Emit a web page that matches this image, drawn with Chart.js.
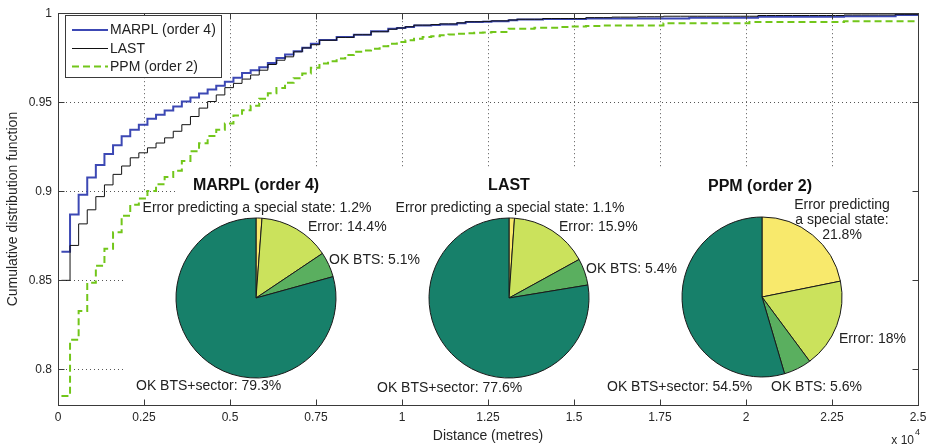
<!DOCTYPE html>
<html>
<head>
<meta charset="utf-8">
<script src="https://cdn.jsdelivr.net/npm/chart.js@4.4.1/dist/chart.umd.min.js"></script>
<style>
  html, body { margin: 0; padding: 0; background: #fff; }
  #wrap { position: relative; width: 936px; height: 448px; overflow: hidden; }
  #wrap canvas { position: absolute; }
</style>
</head>
<body>
<div id="wrap">
  <canvas id="cdf" width="936" height="448" style="left:0;top:0"></canvas>
  <canvas id="pie0" width="340" height="250" style="left:86px;top:173px"></canvas>
  <canvas id="pie1" width="340" height="250" style="left:339px;top:173px"></canvas>
  <canvas id="pie2" width="340" height="250" style="left:592px;top:172px"></canvas>
</div>
<script>
// ---------- data ----------
const seriesNames = ['MARPL (order 4)', 'LAST', 'PPM (order 2)'];

// start of each step of the empirical CDF (metres)
const distance = [
  100, 350, 600, 850, 1100, 1350, 1600, 1850, 2100, 2350,
  2600, 2850, 3100, 3350, 3600, 3850, 4100, 4350, 4600, 4850,
  5100, 5350, 5600, 5850, 6100, 6350, 6600, 6850, 7100, 7350,
  7600, 7850, 8100, 8350, 8600, 8850, 9100, 9350, 9600, 9850,
  10100, 10350, 10600, 10850, 11100, 11350, 11600, 11850, 12100, 12350,
  12600, 12850, 13100, 13350, 13600, 13850, 14100, 14350, 14600, 14850,
  15100, 15350, 15600, 15850, 16100, 16350, 16600, 16850, 17100, 17350,
  17600, 17850, 18100, 18350, 18600, 18850, 19100, 19350, 19600, 19850,
  20100, 20350, 20600, 20850, 21100, 21350, 21600, 21850, 22100, 22350,
  22600, 22850, 23100, 23350, 23600, 23850, 24100, 24350, 24600, 24850,
  25000
];

const cdfMarpl = [
  0.866, 0.887, 0.898, 0.9077, 0.9147, 0.921, 0.9259, 0.9309, 0.9346, 0.9374,
  0.9407, 0.943, 0.9454, 0.9476, 0.9504, 0.9526, 0.9549, 0.9571, 0.9593, 0.9615,
  0.9638, 0.9664, 0.968, 0.9697, 0.9721, 0.9749, 0.9768, 0.9786, 0.9806, 0.9829,
  0.985, 0.985, 0.9866, 0.9866, 0.9879, 0.9879, 0.9898, 0.9898, 0.9912, 0.9917,
  0.9922, 0.9931, 0.9931, 0.9934, 0.9937, 0.9937, 0.9944, 0.995, 0.995, 0.9952,
  0.9955, 0.9955, 0.996, 0.9965, 0.9965, 0.9965, 0.9968, 0.9968, 0.9968, 0.9968,
  0.9968, 0.997, 0.997, 0.997, 0.997, 0.997, 0.997, 0.997, 0.997, 0.997,
  0.997, 0.997, 0.997, 0.9974, 0.9974, 0.9974, 0.9974, 0.9974, 0.9974, 0.9974,
  0.9974, 0.998, 0.998, 0.998, 0.998, 0.998, 0.998, 0.998, 0.998, 0.998,
  0.998, 0.9983, 0.9983, 0.9983, 0.9983, 0.9983, 0.9983, 0.999, 0.999, 0.999,
  0.999
];

const cdfLast = [
  0.85, 0.8696, 0.8817, 0.8896, 0.897, 0.9036, 0.9095, 0.9142, 0.9188, 0.9216,
  0.9244, 0.9271, 0.93, 0.9337, 0.9374, 0.942, 0.9467, 0.9504, 0.9541, 0.9582,
  0.9606, 0.963, 0.9653, 0.968, 0.9712, 0.9736, 0.9755, 0.9783, 0.9805, 0.9823,
  0.9848, 0.9848, 0.9864, 0.9864, 0.9879, 0.9879, 0.9896, 0.9896, 0.991, 0.9917,
  0.9924, 0.9933, 0.9933, 0.9936, 0.994, 0.994, 0.9946, 0.9952, 0.9952, 0.9954,
  0.9957, 0.9957, 0.9962, 0.9966, 0.9966, 0.9966, 0.997, 0.997, 0.997, 0.997,
  0.997, 0.9975, 0.9975, 0.9975, 0.9978, 0.9978, 0.9978, 0.998, 0.998, 0.998,
  0.9983, 0.9983, 0.9983, 0.9983, 0.9983, 0.9983, 0.9983, 0.9983, 0.9983, 0.9983,
  0.9983, 0.9987, 0.9987, 0.9987, 0.9987, 0.9987, 0.9987, 0.9987, 0.9987, 0.9987,
  0.9987, 0.999, 0.999, 0.999, 0.999, 0.999, 0.999, 0.9994, 0.9994, 0.9994,
  0.9994
];

const cdfPpm = [
  0.785, 0.8166, 0.8328, 0.8486, 0.8582, 0.8677, 0.877, 0.8863, 0.8924, 0.8959,
  0.9002, 0.904, 0.908, 0.9115, 0.917, 0.9225, 0.927, 0.931, 0.9345, 0.938,
  0.9425, 0.9455, 0.948, 0.952, 0.955, 0.958, 0.961, 0.9635, 0.9662, 0.9693,
  0.9717, 0.973, 0.9745, 0.9765, 0.9783, 0.979, 0.9801, 0.9815, 0.9829, 0.9838,
  0.9848, 0.9857, 0.9866, 0.9871, 0.9876, 0.988, 0.9885, 0.9888, 0.989, 0.9892,
  0.9894, 0.9894, 0.9912, 0.9912, 0.9912, 0.9918, 0.9918, 0.9918, 0.9922, 0.9926,
  0.9926, 0.9928, 0.9928, 0.9931, 0.9931, 0.9931, 0.9931, 0.9931, 0.9931, 0.9931,
  0.9944, 0.9944, 0.9944, 0.9944, 0.9944, 0.9944, 0.9944, 0.9944, 0.9944, 0.9944,
  0.995, 0.995, 0.995, 0.995, 0.995, 0.995, 0.995, 0.995, 0.995, 0.995,
  0.995, 0.9955, 0.9955, 0.9955, 0.9955, 0.9955, 0.9955, 0.9955, 0.9955, 0.9955,
  0.9955
];

const xTickValues = [0, 2500, 5000, 7500, 10000, 12500, 15000, 17500, 20000, 22500, 25000];
const xTickLabels = ['0', '0.25', '0.5', '0.75', '1', '1.25', '1.5', '1.75', '2', '2.25', '2.5'];
const yTickValues = [0.8, 0.85, 0.9, 0.95, 1];
const yTickLabels = ['0.8', '0.85', '0.9', '0.95', '1'];

// outcome shares (%) for each predictor
const outcomeNames = ['Error predicting a special state', 'Error', 'OK BTS', 'OK BTS+sector'];
const sharesMarpl = [1.2, 14.4, 5.1, 79.3];
const sharesLast = [1.1, 15.9, 5.4, 77.6];
const sharesPpm = [21.8, 18, 5.6, 54.5];

// ---------- styling ----------
const FONT = "'Liberation Sans', Arial, Helvetica, sans-serif";
Chart.defaults.font.family = FONT;
Chart.defaults.color = '#262626';

const lineColors = ['#3c48b4', '#111111', '#72c61a'];
const sliceColors = ['#f8e96c', '#cbe25c', '#5aaf5f', '#17806a'];
const GRID = '#555555';
const AXIS = '#3a3a3a';
const TICK_LEN = 6;

function pts(values) {
  return distance.map((d, i) => ({ x: d, y: values[i] }));
}

// white panels behind the inset pies, then axes box, inward ticks, legend
const frame = {
  id: 'frame',
  beforeDatasetsDraw(chart) {
    const { ctx, chartArea: a } = chart;
    ctx.save();
    ctx.fillStyle = '#fff';
    ctx.fillRect(124, 193, a.right - 1 - 124, a.bottom - 1 - 193);
    ctx.fillRect(175, 168, a.right - 1 - 175, a.bottom - 1 - 168);
    ctx.restore();
  },
  afterDatasetsDraw(chart) {
    const { ctx, chartArea: a, scales } = chart;
    const L = Math.round(a.left) + 0.5, R = Math.round(a.right) + 0.5;
    const T = Math.round(a.top) + 0.5, B = Math.round(a.bottom) + 0.5;
    ctx.save();
    ctx.strokeStyle = AXIS;
    ctx.lineWidth = 1;
    ctx.setLineDash([]);
    ctx.beginPath();
    scales.x.ticks.forEach(t => {
      const px = Math.round(scales.x.getPixelForValue(t.value)) + 0.5;
      ctx.moveTo(px, B); ctx.lineTo(px, B - TICK_LEN);
      ctx.moveTo(px, T); ctx.lineTo(px, T + TICK_LEN);
    });
    scales.y.ticks.forEach(t => {
      const py = Math.round(scales.y.getPixelForValue(t.value)) + 0.5;
      ctx.moveTo(L, py); ctx.lineTo(L + TICK_LEN, py);
      ctx.moveTo(R, py); ctx.lineTo(R - TICK_LEN, py);
    });
    ctx.stroke();
    ctx.strokeRect(L, T, R - L, B - T);

    // legend
    const bx = 65.5, by = 15.5, bw = 156, bh = 62;
    ctx.fillStyle = '#fff';
    ctx.fillRect(bx, by, bw, bh);
    ctx.strokeStyle = AXIS;
    ctx.strokeRect(bx, by, bw, bh);
    const rows = [30, 48.5, 66.5];
    ctx.font = '14px ' + FONT;
    ctx.textBaseline = 'middle';
    ctx.textAlign = 'left';
    chart.data.datasets.forEach((ds, i) => {
      const y = rows[i];
      ctx.beginPath();
      ctx.strokeStyle = ds.borderColor;
      ctx.lineWidth = ds.borderWidth;
      ctx.setLineDash(ds.borderDash || []);
      ctx.moveTo(72, y); ctx.lineTo(108, y);
      ctx.stroke();
      ctx.setLineDash([]);
      ctx.fillStyle = '#222';
      ctx.fillText(ds.label, 110, y + 0.5);
    });
    ctx.restore();
  },
  afterDraw(chart) {
    const { ctx } = chart;
    ctx.save();
    ctx.fillStyle = '#262626';
    ctx.textBaseline = 'middle';
    ctx.textAlign = 'right';
    ctx.font = '12px ' + FONT;
    ctx.fillText('x 10', 914, 441);
    ctx.textAlign = 'left';
    ctx.font = '9px ' + FONT;
    ctx.fillText('4', 915, 433);
    ctx.restore();
  }
};

new Chart(document.getElementById('cdf'), {
  type: 'line',
  data: {
    datasets: [
      { label: seriesNames[0], data: pts(cdfMarpl), borderColor: lineColors[0], borderWidth: 2,
        stepped: 'before', pointRadius: 0, fill: false, order: 2 },
      { label: seriesNames[1], data: pts(cdfLast), borderColor: lineColors[1], borderWidth: 1,
        stepped: 'before', pointRadius: 0, fill: false, order: 0 },
      { label: seriesNames[2], data: pts(cdfPpm), borderColor: lineColors[2], borderWidth: 2,
        borderDash: [7, 4], stepped: 'before', pointRadius: 0, fill: false, order: 1 }
    ]
  },
  options: {
    responsive: false,
    devicePixelRatio: 1,
    animation: false,
    events: [],
    layout: { padding: { top: 11, right: 18, left: 0, bottom: 0 } },
    plugins: { legend: { display: false }, tooltip: { enabled: false } },
    scales: {
      x: {
        type: 'linear', min: 0, max: 25000,
        afterBuildTicks(s) { s.ticks = xTickValues.map(v => ({ value: v })); },
        afterFit(s) { s.height = 43; },
        ticks: { callback: (v, i) => xTickLabels[i], autoSkip: false, maxRotation: 0,
                 font: { size: 12 }, padding: 5, color: '#262626' },
        grid: { color: GRID, lineWidth: 1, drawTicks: false },
        border: { display: false, dash: [1, 3] },
        title: { display: true, text: 'Distance (metres)', font: { size: 14 },
                 color: '#262626', padding: { top: 0, bottom: 3 } }
      },
      y: {
        type: 'linear', min: 0.78, max: 1,
        afterBuildTicks(s) { s.ticks = yTickValues.map(v => ({ value: v })); },
        afterFit(s) { s.width = 58; },
        ticks: { callback: (v, i) => yTickLabels[i], autoSkip: false,
                 font: { size: 12 }, padding: 6, color: '#262626' },
        grid: { color: GRID, lineWidth: 1, drawTicks: false },
        border: { display: false, dash: [1, 3] },
        title: { display: true, text: 'Cumulative distribution function', font: { size: 14 },
                 color: '#262626', padding: { top: 5, bottom: 0 } }
      }
    }
  },
  plugins: [frame]
});

// ---------- inset pies ----------
function wrapText(ctx, text, maxWidth) {
  const words = text.split(' ');
  const lines = [];
  let cur = '';
  words.forEach(w => {
    const test = cur ? cur + ' ' + w : w;
    if (cur && ctx.measureText(test).width > maxWidth) { lines.push(cur); cur = w; }
    else cur = test;
  });
  if (cur) lines.push(cur);
  return lines;
}

const pieLabelsPlugin = {
  id: 'pieLabels',
  afterDraw(chart) {
    const opt = chart.options.plugins.pieLabels;
    const arc = chart.getDatasetMeta(0).data[0];
    const cx = arc.x, cy = arc.y;
    const { ctx } = chart;
    ctx.save();
    ctx.textBaseline = 'middle';
    ctx.fillStyle = '#111';
    ctx.font = 'bold 16px ' + FONT;
    ctx.textAlign = 'center';
    ctx.fillText(opt.title, cx + opt.titlePos.dx, cy + opt.titlePos.dy);
    ctx.font = '14px ' + FONT;
    ctx.fillStyle = '#222';
    const values = chart.data.datasets[0].data;
    chart.data.labels.forEach((name, i) => {
      const p = opt.places[i];
      const text = name + ': ' + values[i] + '%';
      ctx.textAlign = p.align;
      const lines = p.wrap ? wrapText(ctx, text, p.wrap) : [text];
      lines.forEach((ln, j) => ctx.fillText(ln, cx + p.dx, cy + p.dy + j * 15));
    });
    ctx.restore();
  }
};

function makePie(id, title, shares, titlePos, places) {
  new Chart(document.getElementById(id), {
    type: 'pie',
    data: {
      labels: outcomeNames,
      datasets: [{ data: shares, backgroundColor: sliceColors, borderColor: '#1a1a1a',
                   borderWidth: 1, radius: 80 }]
    },
    options: {
      responsive: false,
      devicePixelRatio: 1,
      animation: false,
      events: [],
      layout: { padding: 0 },
      plugins: {
        legend: { display: false }, tooltip: { enabled: false },
        pieLabels: { title, titlePos, places }
      }
    },
    plugins: [pieLabelsPlugin]
  });
}

makePie('pie0', seriesNames[0], sharesMarpl, { dx: 0, dy: -112 }, [
  { dx: 1, dy: -90, align: 'center' },
  { dx: 52, dy: -71, align: 'left' },
  { dx: 73, dy: -38, align: 'left' },
  { dx: -120, dy: 88, align: 'left' }
]);
makePie('pie1', seriesNames[1], sharesLast, { dx: 0, dy: -112 }, [
  { dx: 1, dy: -90, align: 'center' },
  { dx: 50, dy: -71, align: 'left' },
  { dx: 77, dy: -29, align: 'left' },
  { dx: -132, dy: 90, align: 'left' }
]);
makePie('pie2', seriesNames[2], sharesPpm, { dx: -2, dy: -110 }, [
  { dx: 80, dy: -92, align: 'center', wrap: 100 },
  { dx: 77, dy: 42, align: 'left' },
  { dx: 9, dy: 90, align: 'left' },
  { dx: -155, dy: 90, align: 'left' }
]);
</script>
</body>
</html>
